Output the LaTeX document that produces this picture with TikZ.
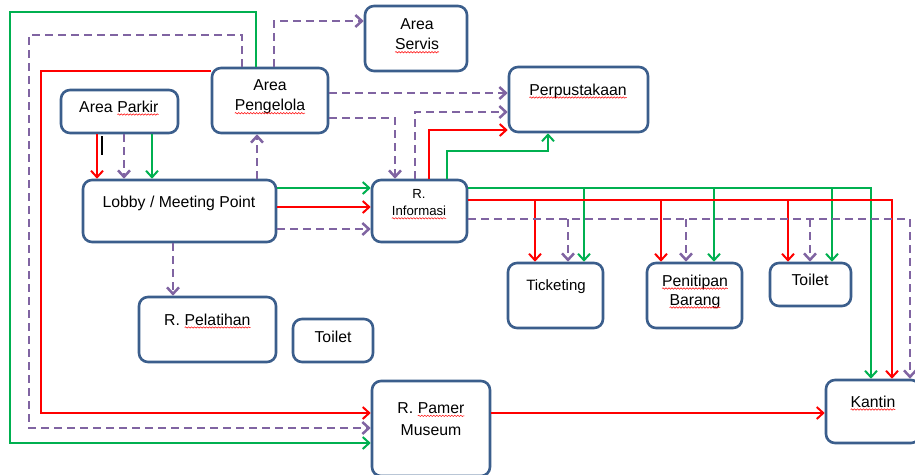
\documentclass[tikz,border=0pt]{standalone}
\usepackage{fontspec}
\setmainfont{Liberation Sans}
\usetikzlibrary{arrows.meta,decorations.pathmorphing}
\definecolor{boxline}{HTML}{3B5E8C}
\definecolor{flowgreen}{HTML}{00B050}
\definecolor{flowred}{HTML}{FF0000}
\definecolor{flowpurple}{HTML}{8064A2}
\tikzset{
  room/.style={draw=boxline, line width=2.6pt, rounded corners=9pt, fill=white, inner sep=0pt},
  lbl/.style={font=\fontsize{15.8}{20}\selectfont, align=center, inner sep=0pt},
  smalllbl/.style={font=\fontsize{13.2}{17}\selectfont, align=center, inner sep=0pt},
  tip/.style={-{Straight Barb[length=6.5pt,width=12pt]}},
  gline/.style={flowgreen, line width=2pt, tip},
  rline/.style={flowred, line width=2pt, tip},
  pline/.style={flowpurple, line width=2.5pt, dash pattern=on 8pt off 5pt, tip},
  squig/.style={flowred, line width=0.5pt, decorate,
    decoration={snake, amplitude=0.7pt, segment length=3pt}},
}
% word with a wavy red underline
\newcommand\sqw[1]{\tikz[baseline=(w.base)]{\node[inner sep=0pt,outer sep=0pt] (w) {#1};
  \draw[squig] ([yshift=-2.5pt]w.base west) -- ([yshift=-2.5pt]w.base east);}}
\begin{document}
\begin{tikzpicture}[x=1pt,y=-1pt]
\useasboundingbox[fill=white] (0,0) rectangle (915,474);

% rooms
\node[room, minimum width=102, minimum height=65] (servis)    at (416,38.5)  {};
\node[room, minimum width=139, minimum height=65] (perpus)    at (578.5,99.5) {};
\node[room, minimum width=117, minimum height=43] (parkir)    at (119.5,111.5) {};
\node[room, minimum width=116, minimum height=65] (pengelola) at (270,100.5) {};
\node[room, minimum width=193, minimum height=62] (lobby)     at (179.5,211) {};
\node[room, minimum width=95,  minimum height=62] (info)      at (419.5,211) {};
\node[room, minimum width=137, minimum height=65] (pelatihan) at (207.5,329.5) {};
\node[room, minimum width=80,  minimum height=43] (toiletA)   at (333,340.5) {};
\node[room, minimum width=118, minimum height=95] (pamer)     at (431,428.5) {};
\node[room, minimum width=95,  minimum height=65] (ticket)    at (555.5,295.5) {};
\node[room, minimum width=95,  minimum height=65] (titip)     at (694.5,295.5) {};
\node[room, minimum width=81,  minimum height=43] (toiletB)   at (810.5,284.5) {};
\node[room, minimum width=94,  minimum height=63] (kantin)    at (873,411.5) {};

% labels
\node[lbl] (servis-t)    at (417,36)  {Area\\\sqw{Servis}};
\node[lbl] (perpus-t)    at (578,91)  {\sqw{Perpustakaan}};
\node[lbl] (parkir-t)    at (119,108) {Area \sqw{Parkir}};
\node[lbl] (pengelola-t) at (270,97)  {Area\\\sqw{Pengelola}};
\node[lbl] (lobby-t)     at (179,203) {Lobby / Meeting Point};
\node[smalllbl] (info-t) at (419,204.5) {R.\\\sqw{Informasi}};
\node[lbl] (pelatihan-t) at (207.5,321) {R. \sqw{Pelatihan}};
\node[lbl] (toiletA-t)   at (333,337) {Toilet};
\node[lbl, font=\fontsize{15.8}{22}\selectfont] (pamer-t) at (431,419) {R. \sqw{Pamer}\\Museum};
\node[lbl, font=\fontsize{15}{20}\selectfont] (ticket-t) at (556,287) {Ticketing};
\node[lbl, font=\fontsize{15.8}{19}\selectfont] (titip-t) at (695,291.5) {\sqw{Penitipan}\\\sqw{Barang}};
\node[lbl] (toiletB-t)   at (810,280) {Toilet};
\node[lbl] (kantin-t)    at (873,403) {\sqw{Kantin}};

% small black bar below the parking box
\draw[line width=2.5pt] (102,136) -- (102,155);

% routes leaving the management area
\draw[gline] (pengelola.north -| 256,0) -- (256,12) -- (10,12) -- (10,443) -- (pamer.west |- 0,443);
\draw[pline] (pengelola.north -| 242,0) -- (242,35) -- (29,35) -- (29,428) -- (pamer.west |- 0,428);
\draw[rline] (pengelola.west |- 0,71) -- (41,71) -- (41,413) -- (pamer.west |- 0,413);
\draw[pline] (pengelola.north -| 274,0) -- (274,21) -- (servis.west |- 0,21);
\draw[pline] (pengelola.east |- 0,93) -- (perpus.west |- 0,93);
\draw[pline] (pengelola.east |- 0,118) -- (395,118) -- (info.north -| 395,0);

% information room to library
\draw[pline] (info.north -| 415,0) -- (415,112) -- (perpus.west |- 0,112);
\draw[rline] (info.north -| 429,0) -- (429,130) -- (perpus.west |- 0,130);
\draw[gline] (info.north -| 447,0) -- (447,151) -- (548,151) -- (perpus.south -| 548,0);

% parking to lobby
\draw[rline] (parkir.south -| 97,0)  -- (lobby.north -| 97,0);
\draw[pline] (parkir.south -| 124,0) -- (lobby.north -| 124,0);
\draw[gline] (parkir.south -| 152,0) -- (lobby.north -| 152,0);

% lobby
\draw[pline] (lobby.north -| 257,0) -- (pengelola.south -| 257,0);
\draw[gline] (lobby.east |- 0,188) -- (info.west |- 0,188);
\draw[rline] (lobby.east |- 0,207) -- (info.west |- 0,207);
\draw[pline] (lobby.east |- 0,229) -- (info.west |- 0,229);
\draw[pline] (lobby.south -| 173,0) -- (pelatihan.north -| 173,0);

% information room distribution
\draw[gline] (info.east |- 0,188) -- (871,188) -- (kantin.north -| 871,0);
\draw[gline] (584,188) -- (ticket.north -| 584,0);
\draw[gline] (714,188) -- (titip.north -| 714,0);
\draw[gline] (832,188) -- (toiletB.north -| 832,0);

\draw[rline] (info.east |- 0,200) -- (892,200) -- (kantin.north -| 892,0);
\draw[rline] (535,200) -- (ticket.north -| 535,0);
\draw[rline] (661,200) -- (titip.north -| 661,0);
\draw[rline] (788,200) -- (toiletB.north -| 788,0);

\draw[pline] (info.east |- 0,219) -- (910,219) -- (kantin.north -| 910,0);
\draw[pline] (568,219) -- (ticket.north -| 568,0);
\draw[pline] (686,219) -- (titip.north -| 686,0);
\draw[pline] (810,219) -- (toiletB.north -| 810,0);

% museum to canteen
\draw[rline] (pamer.east |- 0,413) -- (kantin.west |- 0,413);
\end{tikzpicture}
\end{document}
